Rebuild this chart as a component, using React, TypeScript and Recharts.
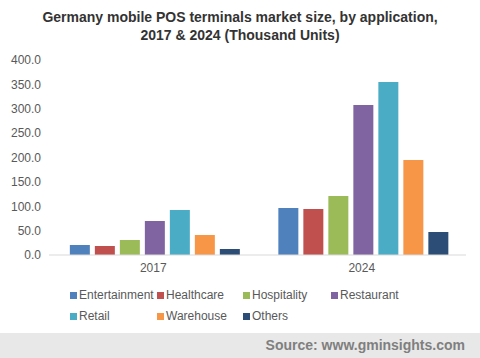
import { BarChart, Bar, XAxis, YAxis } from "recharts"

const years = ["2017", "2024"]
const entertainment = [20.5, 96.4]
const healthcare = [18.5, 94.4]
const hospitality = [30.8, 121.0]
const restaurant = [69.7, 307.7]
const retail = [92.3, 354.9]
const warehouse = [41.0, 194.9]
const others = [12.3, 47.2]
const yTicks = [0, 50, 100, 150, 200, 250, 300, 350, 400]

const series = [
  { key: "Entertainment", values: entertainment, color: "#4f81bd" },
  { key: "Healthcare", values: healthcare, color: "#c0504d" },
  { key: "Hospitality", values: hospitality, color: "#9bbb59" },
  { key: "Restaurant", values: restaurant, color: "#8064a2" },
  { key: "Retail", values: retail, color: "#4bacc6" },
  { key: "Warehouse", values: warehouse, color: "#f79646" },
  { key: "Others", values: others, color: "#2c4d75" },
]

const data = years.map((year, i) => {
  const row: Record<string, string | number> = { year }
  series.forEach((s) => (row[s.key] = s.values[i]))
  return row
})

const font = "'Liberation Sans', Arial, sans-serif"
const legendCols = [70, 157, 243, 331]

export default function App() {
  return (
    <div
      style={{
        position: "fixed",
        left: 0,
        top: 0,
        width: 480,
        height: 358,
        background: "#fff",
        fontFamily: font,
        overflow: "hidden",
      }}
    >
      <div
        style={{
          position: "absolute",
          top: 8,
          left: 0,
          width: 480,
          textAlign: "center",
          fontWeight: "bold",
          fontSize: 14,
          lineHeight: "18px",
          color: "#333",
        }}
      >
        Germany mobile POS terminals market size, by application,
        <br />
        2017 &amp; 2024 (Thousand Units)
      </div>
      <div style={{ position: "absolute", left: 0, top: 0 }}>
        <BarChart
          width={480}
          height={290}
          data={data}
          margin={{ top: 60, right: 14, left: 0, bottom: 5 }}
          barCategoryGap="10%"
          barGap={5}
        >
          <XAxis
            dataKey="year"
            tickLine={false}
            axisLine={{ stroke: "#d9d9d9" }}
            tick={{ fill: "#595959", fontSize: 12, fontFamily: font }}
          />
          <YAxis
            width={49}
            domain={[0, 400]}
            ticks={yTicks}
            tickLine={false}
            axisLine={false}
            tickFormatter={(v: number) => v.toFixed(1)}
            tick={{ fill: "#595959", fontSize: 12, fontFamily: font }}
          />
          {series.map((s) => (
            <Bar key={s.key} dataKey={s.key} fill={s.color} isAnimationActive={false} />
          ))}
        </BarChart>
      </div>
      {series.map((s, i) => (
        <div
          key={s.key}
          style={{
            position: "absolute",
            left: legendCols[i % 4],
            top: i < 4 ? 287 : 308,
            height: 16,
            display: "flex",
            alignItems: "center",
            fontSize: 12,
            color: "#595959",
            whiteSpace: "nowrap",
          }}
        >
          <span
            style={{ width: 7, height: 7, background: s.color, marginRight: 2, display: "inline-block" }}
          />
          {s.key}
        </div>
      ))}
      <div
        style={{
          position: "absolute",
          left: 0,
          top: 333,
          width: 480,
          height: 25,
          background: "#e8e8e8",
        }}
      >
        <div
          style={{
            position: "absolute",
            right: 15,
            top: 4,
            fontSize: 14,
            fontWeight: "bold",
            color: "#7f7f7f",
          }}
        >
          Source: www.gminsights.com
        </div>
      </div>
    </div>
  )
}
